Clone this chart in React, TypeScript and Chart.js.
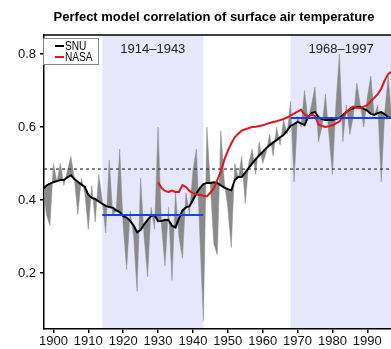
import React, { useEffect, useRef } from "react";
import { Chart, registerables } from "chart.js";

Chart.register(...registerables);

// ---------------- data ----------------
const TITLE = "Perfect model correlation of surface air temperature";
const START_YEAR = 1897;

// SNU annual correlation (grey spikes), 1897..1997
const SNU_ANNUAL = [
  0.44, 0.36, 0.33,
  0.50, 0.45, 0.50, 0.44, 0.48, 0.52, 0.46, 0.36, 0.46, 0.42,
  0.32, 0.44, 0.34, 0.47, 0.40, 0.31, 0.51, 0.36, 0.37, 0.54,
  0.33, 0.21, 0.37, 0.30, 0.15, 0.46, 0.30, 0.19, 0.38, 0.32,
  0.60, 0.33, 0.22, 0.38, 0.18, 0.42, 0.30, 0.24, 0.42, 0.36,
  0.48, 0.54, 0.30, 0.07, 0.60, 0.44, 0.28, 0.25, 0.59, 0.45,
  0.38, 0.27, 0.50, 0.46, 0.52, 0.39, 0.50, 0.54, 0.47, 0.56,
  0.50, 0.53, 0.58, 0.52, 0.60, 0.55, 0.62, 0.58, 0.67, 0.45,
  0.63, 0.60, 0.70, 0.62, 0.66, 0.71, 0.56, 0.60, 0.69, 0.58,
  0.47, 0.66, 0.80, 0.56, 0.66, 0.58, 0.63, 0.72, 0.66, 0.60,
  0.68, 0.74, 0.63, 0.66, 0.45, 0.64, 0.74, 0.62,
];

// SNU smoothed (black line), 1897..1997
const SNU_SMOOTH = [
  0.430, 0.440, 0.445,
  0.449, 0.452, 0.455, 0.455, 0.462, 0.468, 0.458, 0.450, 0.443, 0.436,
  0.415, 0.406, 0.403, 0.396, 0.390, 0.384, 0.381, 0.379, 0.372, 0.367,
  0.356, 0.352, 0.343, 0.330, 0.312, 0.318, 0.333, 0.346, 0.356, 0.359,
  0.342, 0.343, 0.346, 0.345, 0.330, 0.325, 0.350, 0.372, 0.380, 0.383,
  0.400, 0.418, 0.433, 0.444, 0.447, 0.447, 0.449, 0.447, 0.440, 0.434,
  0.430, 0.427, 0.455, 0.463, 0.463, 0.475, 0.488, 0.500, 0.512, 0.522,
  0.532, 0.542, 0.550, 0.558, 0.564, 0.572, 0.578, 0.590, 0.603, 0.608,
  0.614, 0.610, 0.605, 0.627, 0.638, 0.641, 0.627, 0.622, 0.619, 0.619,
  0.619, 0.622, 0.625, 0.633, 0.641, 0.648, 0.652, 0.655, 0.655, 0.650,
  0.645, 0.636, 0.633, 0.638, 0.641, 0.635, 0.627, 0.625,
];

// NASA smoothed (red line), 1930..1997
const NASA_START = 1930;
const NASA_SMOOTH = [
  0.449, 0.433, 0.425, 0.422, 0.426, 0.422, 0.422, 0.441, 0.436, 0.425,
  0.419, 0.416, 0.414, 0.412, 0.410, 0.420, 0.432, 0.455, 0.478, 0.510,
  0.535, 0.555, 0.572, 0.582, 0.590, 0.594, 0.597, 0.600, 0.601, 0.603,
  0.605, 0.608, 0.611, 0.614, 0.616, 0.619, 0.622, 0.626, 0.632, 0.637,
  0.642, 0.647, 0.635, 0.628, 0.634, 0.630, 0.607, 0.603, 0.600, 0.602,
  0.605, 0.610, 0.615, 0.628, 0.641, 0.650, 0.656, 0.653, 0.652, 0.656,
  0.660, 0.670, 0.680, 0.690, 0.705, 0.728, 0.745, 0.752,
];

const PERIOD_EARLY = [1914, 1943];
const PERIOD_LATE = [1968, 1997];
const PERIOD_LABELS = ["1914\u20131943", "1968\u20131997"];
const MEAN_EARLY = 0.359;
const MEAN_LATE = 0.625;
const LONG_MEAN = 0.485;

const LEGEND_LABELS = ["SNU", "NASA"];

const X_MIN = 1897.3;
const X_MAX = 1996.8;
const Y_MIN = 0.047;
const Y_MAX = 0.852;

// ---------------- styles ----------------
const FONT = "'Liberation Sans', Arial, Helvetica, sans-serif";
const SHADE = "#e6e7fa";
const GREY = "#8a8a8a";
const RED = "#e4141b";
const BLUE = "#1f3fe6";

const pts = (start: number, vals: number[]) =>
  vals.map((v, i) => ({ x: start + i, y: v }));

const decor = {
  id: "decor",
  beforeDraw(chart: any) {
    const { ctx, chartArea: a, scales } = chart;
    const x = scales.x;
    ctx.save();
    ctx.fillStyle = SHADE;
    [PERIOD_EARLY, PERIOD_LATE].forEach(([s, e]) => {
      const x0 = Math.max(a.left, x.getPixelForValue(s));
      const x1 = Math.min(a.right, x.getPixelForValue(e));
      ctx.fillRect(x0, a.top, x1 - x0, a.bottom - a.top);
    });
    ctx.fillStyle = "#222";
    ctx.font = `13px ${FONT}`;
    ctx.textAlign = "center";
    ctx.textBaseline = "middle";
    [PERIOD_EARLY, PERIOD_LATE].forEach(([s, e], i) => {
      const cx = (x.getPixelForValue(s) + x.getPixelForValue(e)) / 2;
      ctx.fillText(PERIOD_LABELS[i], cx, a.top + 14);
    });
    ctx.restore();
  },
  afterDraw(chart: any) {
    const { ctx, chartArea: a } = chart;
    ctx.save();
    // top frame line
    ctx.strokeStyle = "#000";
    ctx.lineWidth = 1.5;
    ctx.beginPath();
    ctx.moveTo(a.left - 0.75, a.top);
    ctx.lineTo(a.right, a.top);
    ctx.stroke();
    // title
    ctx.fillStyle = "#000";
    ctx.font = `bold 13px ${FONT}`;
    ctx.textAlign = "center";
    ctx.textBaseline = "middle";
    ctx.fillText(TITLE, 214, 17);
    // legend
    const bx = a.left - 1, by = a.top + 3, bw = 56, bh = 27;
    ctx.fillStyle = "#fff";
    ctx.fillRect(bx, by, bw, bh);
    ctx.strokeStyle = "#8a8a8a";
    ctx.lineWidth = 1;
    ctx.strokeRect(bx + 0.5, by + 0.5, bw - 1, bh - 1);
    const colors = ["#000", RED];
    LEGEND_LABELS.forEach((lab, i) => {
      const cy = by + 8 + i * 11;
      ctx.strokeStyle = colors[i];
      ctx.lineWidth = 2;
      ctx.beginPath();
      ctx.moveTo(bx + 12, cy);
      ctx.lineTo(bx + 21, cy);
      ctx.stroke();
      ctx.save();
      ctx.translate(bx + 22, cy + 0.5);
      ctx.scale(0.78, 1);
      ctx.fillStyle = "#000";
      ctx.font = `13px ${FONT}`;
      ctx.textAlign = "left";
      ctx.textBaseline = "middle";
      ctx.fillText(lab, 0, 0);
      ctx.restore();
    });
    ctx.restore();
  },
};

export default function App() {
  const ref = useRef<HTMLCanvasElement | null>(null);

  useEffect(() => {
    if (!ref.current) return;
    const chart = new Chart(ref.current, {
      type: "line",
      data: {
        datasets: [
          {
            label: "SNU annual",
            data: pts(START_YEAR, SNU_ANNUAL),
            borderColor: GREY,
            backgroundColor: GREY,
            borderWidth: 0.5,
            pointRadius: 0,
            tension: 0,
            fill: { target: 1 },
            order: 10,
          },
          {
            label: "SNU",
            data: pts(START_YEAR, SNU_SMOOTH),
            borderColor: "#000",
            borderWidth: 2,
            pointRadius: 0,
            tension: 0,
            fill: false,
            order: 3,
          },
          {
            label: "NASA",
            data: pts(NASA_START, NASA_SMOOTH),
            borderColor: RED,
            borderWidth: 2,
            pointRadius: 0,
            tension: 0,
            fill: false,
            order: 2,
          },
          {
            label: "mean 1914-1943",
            data: [
              { x: PERIOD_EARLY[0], y: MEAN_EARLY },
              { x: PERIOD_EARLY[1], y: MEAN_EARLY },
            ],
            borderColor: BLUE,
            borderWidth: 2,
            pointRadius: 0,
            fill: false,
            order: 1,
          },
          {
            label: "mean 1968-1997",
            data: [
              { x: PERIOD_LATE[0], y: MEAN_LATE },
              { x: PERIOD_LATE[1], y: MEAN_LATE },
            ],
            borderColor: BLUE,
            borderWidth: 2,
            pointRadius: 0,
            fill: false,
            order: 1,
          },
          {
            label: "long-term mean",
            data: [
              { x: X_MIN, y: LONG_MEAN },
              { x: X_MAX, y: LONG_MEAN },
            ],
            borderColor: "#333",
            borderWidth: 1.2,
            borderDash: [3, 3],
            pointRadius: 0,
            fill: false,
            order: 5,
          },
        ],
      },
      options: {
        animation: false,
        responsive: false,
        devicePixelRatio: 1,
        layout: { padding: { top: 35, left: 0, right: 0, bottom: 0 } },
        plugins: {
          legend: { display: false },
          title: { display: false },
          tooltip: { enabled: false },
        },
        scales: {
          x: {
            type: "linear",
            min: X_MIN,
            max: X_MAX,
            afterFit: (s: any) => {
              s.height = 20;
            },
            ticks: {
              stepSize: 10,
              includeBounds: false,
              autoSkip: false,
              maxRotation: 0,
              padding: 1,
              color: "#111",
              font: { size: 13, family: FONT },
              callback: (v: any) => String(v),
            },
            grid: {
              drawOnChartArea: false,
              drawTicks: true,
              tickLength: 4,
              color: "#000",
              lineWidth: 1.5,
            },
            border: { display: true, color: "#000", width: 1.5 },
          },
          y: {
            type: "linear",
            min: Y_MIN,
            max: Y_MAX,
            afterFit: (s: any) => {
              s.width = 44;
            },
            ticks: {
              stepSize: 0.2,
              includeBounds: false,
              padding: 4,
              color: "#111",
              font: { size: 13, family: FONT },
              callback: (v: any) => Number(v).toFixed(1),
            },
            grid: {
              drawOnChartArea: false,
              drawTicks: true,
              tickLength: 4,
              color: "#000",
              lineWidth: 1.5,
            },
            border: { display: true, color: "#000", width: 1.5 },
          },
        },
      },
      plugins: [decor],
    } as any);
    return () => chart.destroy();
  }, []);

  return (
    <div style={{ position: "absolute", left: 0, top: 0, width: 391, height: 349, background: "#fff" }}>
      <canvas ref={ref} width={391} height={349} style={{ display: "block" }} />
    </div>
  );
}
